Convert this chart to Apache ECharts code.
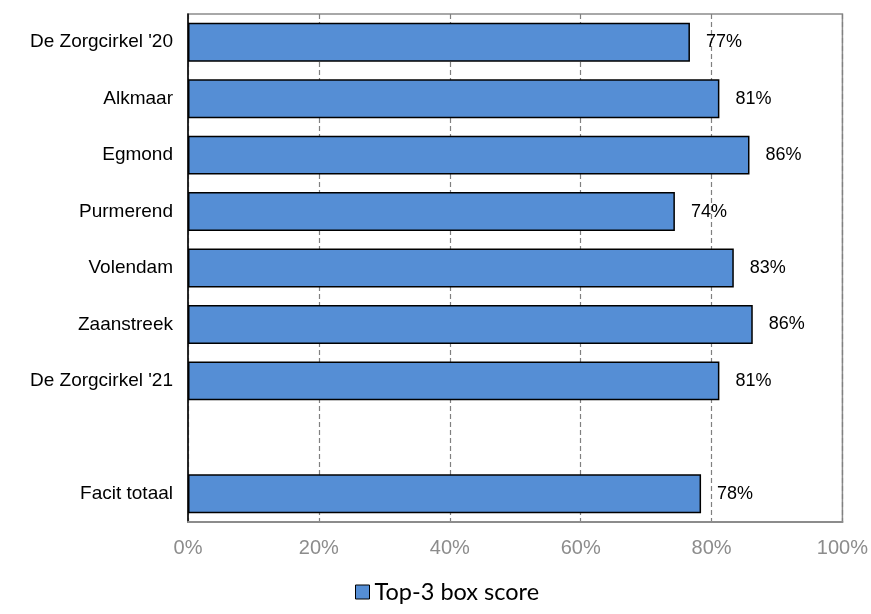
<!DOCTYPE html>
<html><head><meta charset="utf-8">
<script src="https://cdn.jsdelivr.net/npm/echarts@6/dist/echarts.min.js"></script>
<style>html,body{margin:0;padding:0;background:#fff}#c{width:871px;height:614px}</style>
</head><body><div id="c"></div>
<script>
const categories = ["De Zorgcirkel '20", "Alkmaar", "Egmond", "Purmerend", "Volendam", "Zaanstreek", "De Zorgcirkel '21", "", "Facit totaal"];
const values = [76.7, 81.2, 85.8, 74.4, 83.4, 86.3, 81.2, null, 78.4];
const seriesName = "Top-3 box score";
const xTicks = [0, 20, 40, 60, 80, 100];

const chart = echarts.init(document.getElementById('c'));
chart.setOption({
  animation: false,
  grid: {left: 188, right: 28, top: 14, bottom: 92, show: true, borderColor: '#8c8c8c', borderWidth: 1.5},
  legend: {
    bottom: 5, left: 350, itemWidth: 14, itemHeight: 14, itemGap: 4,
    textStyle: {fontFamily: 'Lato', fontSize: 23.5, color: '#000'},
    data: [{name: seriesName, icon: 'rect', itemStyle: {borderColor: '#000', borderWidth: 1}}]
  },
  xAxis: {
    type: 'value', min: 0, max: 100, interval: 20,
    axisLine: {show: true, lineStyle: {color: '#8c8c8c', width: 2}},
    axisTick: {show: false},
    splitLine: {show: true, lineStyle: {color: '#808080', type: [5, 3], width: 1.2}},
    axisLabel: {color: '#8c8c8c', fontFamily: 'Liberation Sans, Arial', fontSize: 20, margin: 16,
      formatter: v => xTicks.includes(v) ? v + '%' : ''}
  },
  yAxis: {
    type: 'category', data: categories, inverse: true,
    axisLine: {show: true, lineStyle: {color: '#000', width: 1.5}},
    axisTick: {show: false},
    axisLabel: {color: '#000', fontFamily: 'Liberation Sans, Arial', fontSize: 19, margin: 15}
  },
  series: [{
    name: seriesName, type: 'bar', data: values, barCategoryGap: '31%',
    itemStyle: {color: '#558ed5', borderColor: '#000', borderWidth: 1.5},
    label: {show: true, position: 'right', distance: 16, color: '#000',
      fontFamily: 'Liberation Sans, Arial', fontSize: 18,
      formatter: p => p.value == null ? '' : Math.round(p.value) + '%'}
  }]
});
</script></body></html>
